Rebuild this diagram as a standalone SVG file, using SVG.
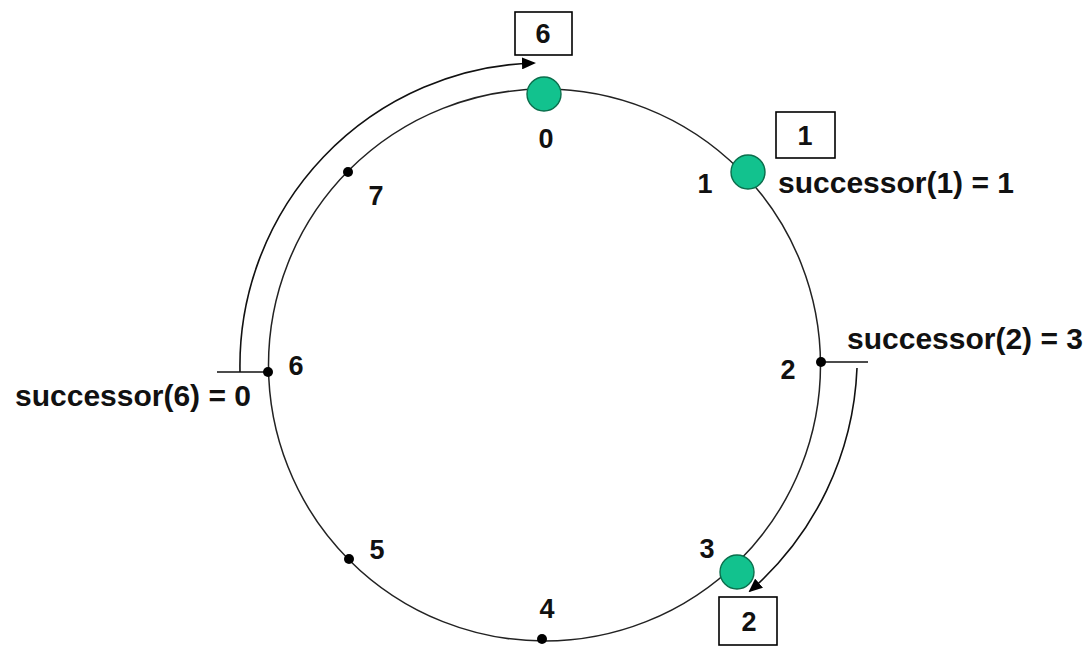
<svg xmlns="http://www.w3.org/2000/svg" width="1087" height="649" viewBox="0 0 1087 649">
<style>
.ring{fill:none;stroke:#222;stroke-width:1.5}
.conn{fill:none;stroke:#111;stroke-width:1.6}
.peer{fill:#12c28e;stroke:#0b6e4c;stroke-width:1.4}
.dot{fill:#000}
.box{fill:#fff;stroke:#000;stroke-width:1.6}
.lbl{font-family:"Liberation Sans",Arial,sans-serif;font-weight:bold;font-size:27px;fill:#111;text-anchor:middle}
.succ{font-family:"Liberation Sans",Arial,sans-serif;font-weight:bold;font-size:30px;fill:#111}
</style>
<defs>
<marker id="arr" markerWidth="14" markerHeight="12" refX="12" refY="6" orient="auto" markerUnits="userSpaceOnUse">
<path d="M0,0 L14,6 L0,12 Z" fill="#000"/>
</marker>
</defs>
<rect width="1087" height="649" fill="#fff"/>
<g id="ring"><circle class="ring" cx="544.5" cy="365" r="276"/></g>
<g id="connectors">
<line class="conn" x1="217" y1="372" x2="268" y2="372"/>
<path class="conn" d="M240,372 A303,303 0 0 1 534,63" marker-end="url(#arr)"/>
<line class="conn" x1="821" y1="362" x2="868" y2="362"/>
<path class="conn" d="M857,368 A312,312 0 0 1 750,591" marker-end="url(#arr)"/>
</g>
<g id="node0"><circle class="peer" cx="544" cy="94" r="17"/><text class="lbl" x="546" y="148">0</text></g>
<g id="node1"><circle class="peer" cx="748" cy="172" r="17"/><text class="lbl" x="705" y="193">1</text></g>
<g id="node2"><circle class="dot" cx="821" cy="362" r="5"/><text class="lbl" x="788" y="379">2</text></g>
<g id="node3"><circle class="peer" cx="737" cy="572" r="17"/><text class="lbl" x="707" y="558">3</text></g>
<g id="node4"><circle class="dot" cx="542" cy="639" r="5"/><text class="lbl" x="547" y="618">4</text></g>
<g id="node5"><circle class="dot" cx="349" cy="559" r="5"/><text class="lbl" x="377" y="559">5</text></g>
<g id="node6"><circle class="dot" cx="268" cy="372" r="5"/><text class="lbl" x="296" y="375">6</text></g>
<g id="node7"><circle class="dot" cx="348" cy="172" r="5"/><text class="lbl" x="376" y="205">7</text></g>
<g id="key6"><rect class="box" x="515" y="12" width="57" height="43"/><text class="lbl" x="543" y="43">6</text></g>
<g id="key1"><rect class="box" x="776" y="112" width="59" height="46"/><text class="lbl" x="805" y="145">1</text></g>
<g id="key2"><rect class="box" x="719" y="597" width="58" height="48"/><text class="lbl" x="749" y="631">2</text></g>
<g id="succ1"><text class="succ" x="778" y="193">successor(1) = 1</text></g>
<g id="succ2"><text class="succ" x="847" y="349">successor(2) = 3</text></g>
<g id="succ6"><text class="succ" x="15" y="406">successor(6) = 0</text></g>
</svg>
